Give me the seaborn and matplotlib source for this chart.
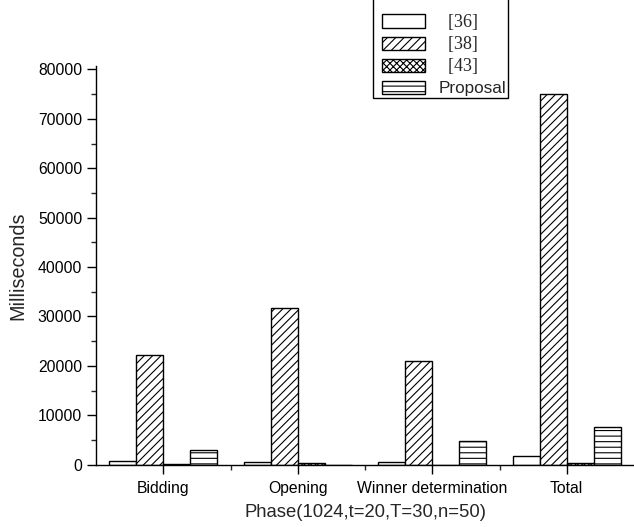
import matplotlib
matplotlib.use("Agg")
import matplotlib.pyplot as plt
import seaborn as sns
import pandas as pd
import numpy as np
from matplotlib.patches import Patch, Rectangle
from matplotlib.ticker import MultipleLocator, FixedLocator

categories = ['Bidding', 'Opening', 'Winner determination', 'Total']
series_names = ['[36]', '[38]', '[43]', 'Proposal']
s36 = [750, 500, 550, 1800]
s38 = [22200, 31800, 21000, 75000]
s43 = [150, 250, 0, 400]
proposal = [2900, 0, 4750, 7700]

rows = []
for name, vals in zip(series_names, [s36, s38, s43, proposal]):
    for c, v in zip(categories, vals):
        rows.append({'Phase': c, 'Series': name, 'ms': v})
df = pd.DataFrame(rows)

sns.set_style('ticks')
plt.rcParams['font.family'] = ['Liberation Sans', 'DejaVu Sans']
plt.rcParams['hatch.linewidth'] = 0.8
plt.rcParams['hatch.color'] = 'black'

fig = plt.figure(figsize=(6.34, 5.27), dpi=100)
ax = fig.add_axes([96/634, 1-464.7/527, (634-96)/634, (464.7-66)/527])

sns.barplot(data=df, x='Phase', y='ms', hue='Series', order=categories,
            hue_order=series_names, width=0.8, dodge=True, ax=ax,
            palette=['white']*4, edgecolor='black', linewidth=1.0,
            saturation=1, legend=False, errorbar=None)

hatches = ['', '////', 'xxxxx', '---']
for cont, h in zip(ax.containers, hatches):
    for p in cont:
        p.set_hatch(h)
        p.set_facecolor('white')
        p.set_edgecolor('black')

ax.set_xlim(-0.5, 3.5)
ax.set_ylim(0, 80700)
ax.yaxis.set_major_locator(MultipleLocator(10000))
ax.yaxis.set_minor_locator(MultipleLocator(5000))
ax.xaxis.set_minor_locator(FixedLocator([0.5, 1.5, 2.5]))
ax.tick_params(axis='both', which='major', direction='out', length=6.5, width=1.0,
               labelsize=11.3, colors='black')
ax.tick_params(axis='both', which='minor', direction='out', length=3.5, width=1.0)
ax.tick_params(axis='x', which='major', pad=5)
sns.despine(ax=ax)
for s in ['left', 'bottom']:
    ax.spines[s].set_linewidth(1.0)
    ax.spines[s].set_color('black')

ax.set_xlabel('Phase(1024,t=20,T=30,n=50)', fontsize=13.3, labelpad=6)
ax.set_ylabel('Milliseconds', fontsize=14.2, labelpad=7.5)

labels = ['  ' + n if n.startswith('[') else n for n in series_names]
handles = [Patch(facecolor='white', edgecolor='black', hatch=h, linewidth=1.0) for h in hatches]
leg = fig.legend(handles, labels, loc='lower left',
                 bbox_to_anchor=(380/634, 1-98/527), borderaxespad=0.0,
                 frameon=True, fancybox=False,
                 edgecolor='black', fontsize=12.3, handlelength=2.55, handleheight=0.85,
                 labelspacing=0.3, handletextpad=0.8, borderpad=0.1,
                 title=' ', title_fontsize=16)
for t in leg.get_texts()[:3]:
    t.set_fontfamily(['Liberation Serif', 'DejaVu Serif'])
    t.set_fontsize(13)

# extend the legend frame on the left side (asymmetric padding as in the reference)
fig.canvas.draw()
fr = leg.get_frame()
x0, y0, w, h = fr.get_x(), fr.get_y(), fr.get_width(), fr.get_height()
fr.set_visible(False)
inv = fig.transFigure.inverted()
(fx0, fy0) = inv.transform((x0 - 7, y0))
(fx1, fy1) = inv.transform((x0 + w, y0 + h))
fig.patches.append(Rectangle((fx0, fy0), fx1 - fx0, fy1 - fy0, transform=fig.transFigure,
                             facecolor='white', edgecolor='black', linewidth=1.0,
                             zorder=4, figure=fig))

fig.savefig('out.png', dpi=100)
